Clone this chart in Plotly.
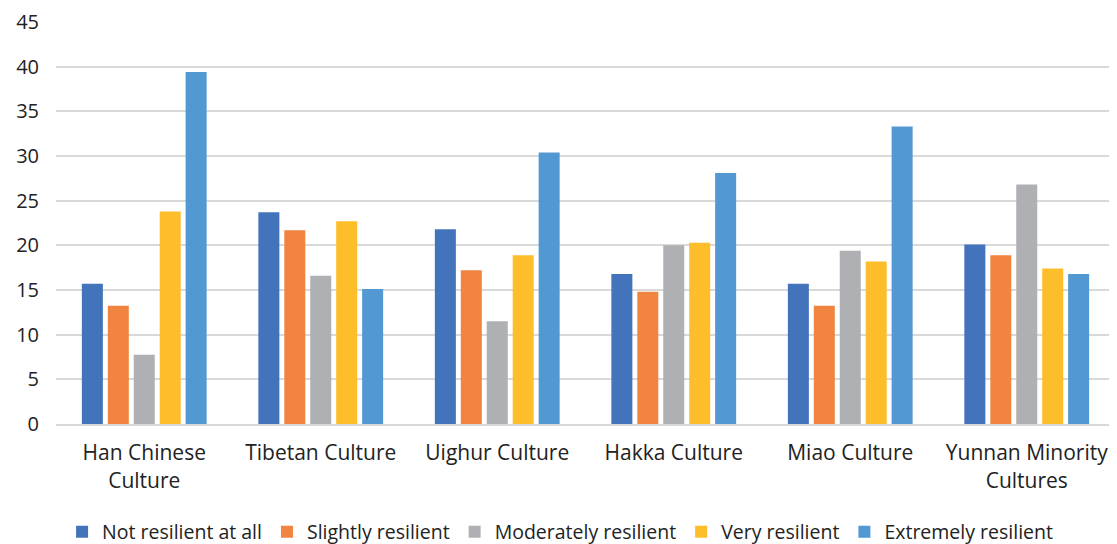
import plotly.graph_objects as go

categories = ["Han Chinese<br>Culture", "Tibetan Culture", "Uighur Culture",
              "Hakka Culture", "Miao Culture", "Yunnan Minority<br>Cultures"]
series_names = ["Not resilient at all", "Slightly resilient", "Moderately resilient",
                "Very resilient", "Extremely resilient"]
not_resilient = [15.7, 23.7, 21.8, 16.8, 15.7, 20.1]
slightly = [13.25, 21.7, 17.2, 14.8, 13.25, 18.9]
moderately = [7.75, 16.6, 11.5, 20.0, 19.4, 26.8]
very = [23.8, 22.7, 18.9, 20.3, 18.2, 17.4]
extremely = [39.4, 15.1, 30.4, 28.1, 33.3, 16.8]
y_ticks = [0, 5, 10, 15, 20, 25, 30, 35, 40, 45]

colors = ["#4374BB", "#F18440", "#AFB0B3", "#FEBE2B", "#5299D3"]
values = [not_resilient, slightly, moderately, very, extremely]

fig = go.Figure()
for name, vals, col in zip(series_names, values, colors):
    fig.add_trace(go.Bar(x=categories, y=vals, name=name, marker_color=col,
                         marker_line_width=0))

# page body has an 8px default margin; figure is offset accordingly
fig.update_layout(
    width=1109, height=544,
    paper_bgcolor="white", plot_bgcolor="white",
    margin=dict(l=48, r=2, t=14, b=127),
    barmode="group", bargap=0.265, bargroupgap=0.19,
    font=dict(family="Open Sans, Noto Sans, sans-serif", size=20, color="#222222"),
    legend=dict(orientation="h", x=0.476, xanchor="center", y=-0.2655, yanchor="middle",
                font=dict(family="Open Sans, Noto Sans, sans-serif",
                          size=19.5, color="#222222"),
                itemwidth=30, traceorder="normal"),
    showlegend=True,
)
fig.update_xaxes(showgrid=False, showline=True, linecolor="#D9D9D9", linewidth=2,
                 ticks="outside", ticklen=9, tickcolor="rgba(0,0,0,0)",
                 tickfont=dict(size=21), automargin=False)
fig.update_yaxes(range=[0, 45], tickvals=y_ticks, showgrid=True, gridcolor="#D9D9D9",
                 gridwidth=2, zeroline=False, showline=False, ticks="outside",
                 ticklen=12, tickcolor="rgba(0,0,0,0)", tickfont=dict(size=20),
                 automargin=False)

fig.write_html("out.html")
